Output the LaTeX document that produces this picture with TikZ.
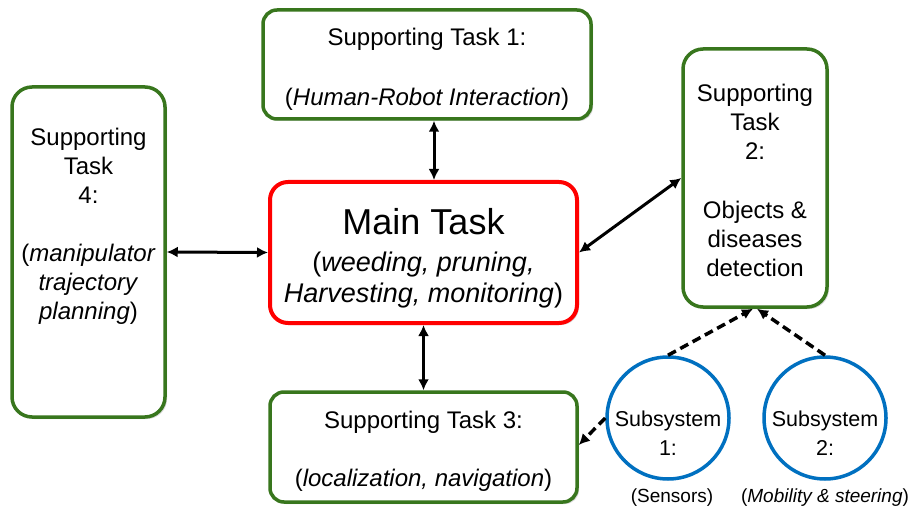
\documentclass[tikz,border=0pt]{standalone}
\usepackage{fontspec}
\setmainfont{Liberation Sans}
\usetikzlibrary{arrows.meta,shadows}
\definecolor{boxgreen}{RGB}{56,118,29}
\definecolor{circblue}{RGB}{0,112,192}
\begin{document}
\begin{tikzpicture}[x=1pt,y=-1pt,
  shad/.style={drop shadow={opacity=0.3,shadow xshift=2pt,shadow yshift=-2pt}},
  gbox/.style={draw=boxgreen, line width=3.5pt, fill=white, rounded corners=14pt, shad, inner sep=0pt},
  rbox/.style={draw=red, line width=4pt, fill=white, rounded corners=18pt, shad, inner sep=0pt},
  subcirc/.style={draw=circblue, line width=3.5pt, fill=white, circle, minimum size=122pt, inner sep=0pt},
  txt/.style={align=center, inner sep=0pt},
  biarrow/.style={{Latex[length=11pt,width=11pt]}-{Latex[length=11pt,width=11pt]}, line width=3pt},
  darrow/.style={-{Latex[length=11pt,width=11pt]}, line width=3.5pt, dash pattern=on 9pt off 5pt}
]
\useasboundingbox[fill=white] (0,0) rectangle (915,513);

% Supporting Task 1
\node[gbox, minimum width=328pt, minimum height=109pt] (st1) at (427,64.5) {};
\node[txt, font=\fontsize{24}{30}\selectfont] (st1t) at (427,69)
  {Supporting Task 1:\\[30pt](\textit{Human-Robot Interaction})};

% Main task
\node[rbox, minimum width=307pt, minimum height=141pt] (main) at (423.5,252.5) {};
\node[txt, font=\fontsize{27}{31}\selectfont] (maint) at (423.5,258)
  {{\fontsize{36}{40}\selectfont Main Task}\\[6pt](\textit{weeding, pruning,}\\ \textit{Harvesting, monitoring})};

% Supporting Task 3
\node[gbox, minimum width=307pt, minimum height=110pt] (st3) at (423.5,447) {};
\node[txt, font=\fontsize{24}{29}\selectfont] (st3t) at (423.5,451)
  {Supporting Task 3:\\[29pt](\textit{localization, navigation})};

% Supporting Task 4
\node[gbox, rounded corners=20pt, minimum width=153pt, minimum height=330pt] (st4) at (88.5,252) {};
\node[txt, font=\fontsize{24}{29}\selectfont] (st4t) at (88.5,226)
  {Supporting\\Task\\4:\\[29pt](\textit{manipulator}\\ \textit{trajectory}\\ \textit{planning})};

% Supporting Task 2
\node[gbox, rounded corners=20pt, minimum width=144pt, minimum height=258pt] (st2) at (755,178) {};
\node[txt, font=\fontsize{24}{29.3}\selectfont] (st2t) at (755,180.5)
  {Supporting\\Task\\2:\\[29.3pt]Objects \&\\diseases\\detection};

% Subsystems
\node[subcirc] (sub1) at (668,418) {};
\node[txt, font=\fontsize{21.5}{29}\selectfont] (sub1t) at (668,433.5) {Subsystem\\1:};
\node[subcirc] (sub2) at (825,418) {};
\node[txt, font=\fontsize{21.5}{29}\selectfont] (sub2t) at (825,433.5) {Subsystem\\2:};
\node[txt, font=\fontsize{19}{22}\selectfont] (sens) at (672,498) {(Sensors)};
\node[txt, font=\fontsize{19}{22}\selectfont] (mob) at (825,498) {(\textit{Mobility \& steering})};

% connectors
\draw[biarrow] ([xshift=7pt]st1.south) -- ([xshift=10.5pt]main.north);
\draw[biarrow] (main.south) -- (st3.north);
\draw[biarrow] (st4.east) -- (main.west);
\draw[biarrow] (main.east) -- (st2.west);
\draw[darrow] (sub1.north) -- ([xshift=-2pt]st2.south);
\draw[darrow] (sub2.north) -- ([xshift=2pt]st2.south);
\draw[darrow] (sub1.west) -- ([yshift=2pt]st3.east);
\end{tikzpicture}
\end{document}
